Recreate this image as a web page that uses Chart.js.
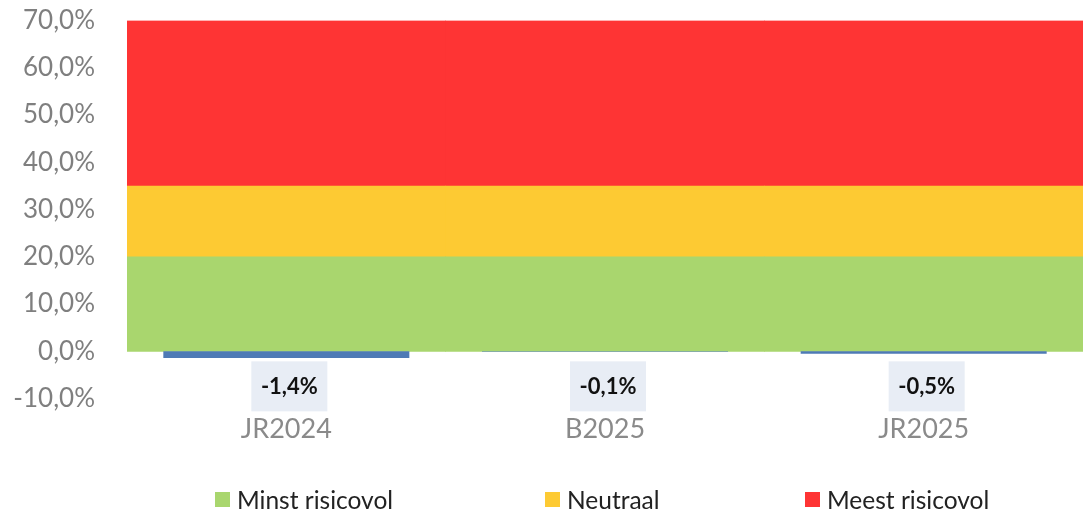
<!DOCTYPE html>
<html lang="nl">
<head>
  <meta charset="UTF-8" />
  <title>Risicoprofiel</title>
  <script src="https://cdn.jsdelivr.net/npm/chart.js"></script>
  <style>
    body {
      margin: 0;
      background: #ffffff;
      overflow: hidden;
      font-family: Lato, sans-serif;
    }
    .wrap {
      position: relative;
      width: 1083px;
      height: 517px;
      overflow: hidden;
    }
    #chart {
      position: absolute;
      left: 0;
      top: -27px;
    }
    .legend .item {
      position: absolute;
      top: 485px;
      display: flex;
      align-items: center;
      font-size: 24.5px;
      color: #222222;
      white-space: nowrap;
    }
    .legend .box {
      width: 15px;
      height: 15px;
      margin-right: 7px;
    }
  </style>
</head>
<body>
  <div class="wrap">
    <canvas id="chart" width="1083" height="544"></canvas>
    <div class="legend" id="legend"></div>
  </div>

  <script>
    const categories = ['JR2024', 'B2025', 'JR2025'];
    const minstRisicovol = [20, 20, 20];
    const neutraal = [15, 15, 15];
    const meestRisicovol = [35, 35, 35];
    const resultaat = [-1.4, -0.1, -0.5];
    const yMin = -10;
    const yMax = 70;
    const yStep = 10;

    const bandLabels = ['Minst risicovol', 'Neutraal', 'Meest risicovol'];
    const bandColors = ['#a9d66e', '#fdca33', '#fe3434'];
    const legendLeft = [215, 545, 805];

    function pct(v) {
      return v.toFixed(1).replace('.', ',') + '%';
    }

    // value labels in light boxes under each bar
    const valueBoxes = {
      id: 'valueBoxes',
      afterDraw(chart) {
        const ctx = chart.ctx;
        const meta = chart.getDatasetMeta(0);
        const y0 = chart.scales.y.getPixelForValue(0);
        ctx.save();
        ctx.font = 'bold 22px Lato';
        ctx.textAlign = 'center';
        ctx.textBaseline = 'middle';
        meta.data.forEach((bar, i) => {
          const w = 76, h = 50;
          const cx = bar.x + 3;
          ctx.fillStyle = '#e8edf5';
          ctx.fillRect(cx - w / 2, y0 + 10, w, h);
          ctx.fillStyle = '#111111';
          ctx.fillText(pct(resultaat[i]), cx, y0 + 36);
        });
        ctx.restore();
      }
    };

    const bandSets = [minstRisicovol, neutraal, meestRisicovol].map((vals, i) => ({
      label: bandLabels[i],
      data: vals,
      backgroundColor: bandColors[i],
      stack: 'bands',
      grouped: false,
      barPercentage: 1,
      categoryPercentage: 1
    }));

    const chart = new Chart(document.getElementById('chart'), {
      type: 'bar',
      data: {
        labels: categories,
        datasets: [
          {
            label: 'Resultaat',
            data: resultaat,
            backgroundColor: '#4e7ab5',
            stack: 'result',
            grouped: false,
            barPercentage: 0.772,
            categoryPercentage: 1
          },
          ...bandSets
        ]
      },
      options: {
        responsive: false,
        animation: false,
        layout: { padding: { top: 0, bottom: 58, left: 0, right: 0 } },
        plugins: {
          legend: { display: false },
          tooltip: { enabled: false }
        },
        scales: {
          x: {
            stacked: true,
            grid: { display: false, drawTicks: false },
            border: { display: false },
            ticks: { color: '#8a8a8a', font: { family: 'Lato', size: 27 }, padding: 14 }
          },
          y: {
            stacked: true,
            min: yMin,
            max: yMax,
            grid: { display: false, drawTicks: false },
            border: { display: false },
            afterFit(scale) { scale.width = 127; },
            ticks: {
              stepSize: yStep,
              color: '#7f7f7f',
              font: { family: 'Lato', size: 26 },
              padding: 32,
              callback: v => pct(v)
            }
          }
        }
      },
      plugins: [valueBoxes]
    });

    const legendEl = document.getElementById('legend');
    bandLabels.forEach((lbl, i) => {
      const item = document.createElement('div');
      item.className = 'item';
      item.style.left = legendLeft[i] + 'px';
      const box = document.createElement('span');
      box.className = 'box';
      box.style.background = bandColors[i];
      const txt = document.createElement('span');
      txt.textContent = lbl;
      item.appendChild(box);
      item.appendChild(txt);
      legendEl.appendChild(item);
    });
  </script>
</body>
</html>
